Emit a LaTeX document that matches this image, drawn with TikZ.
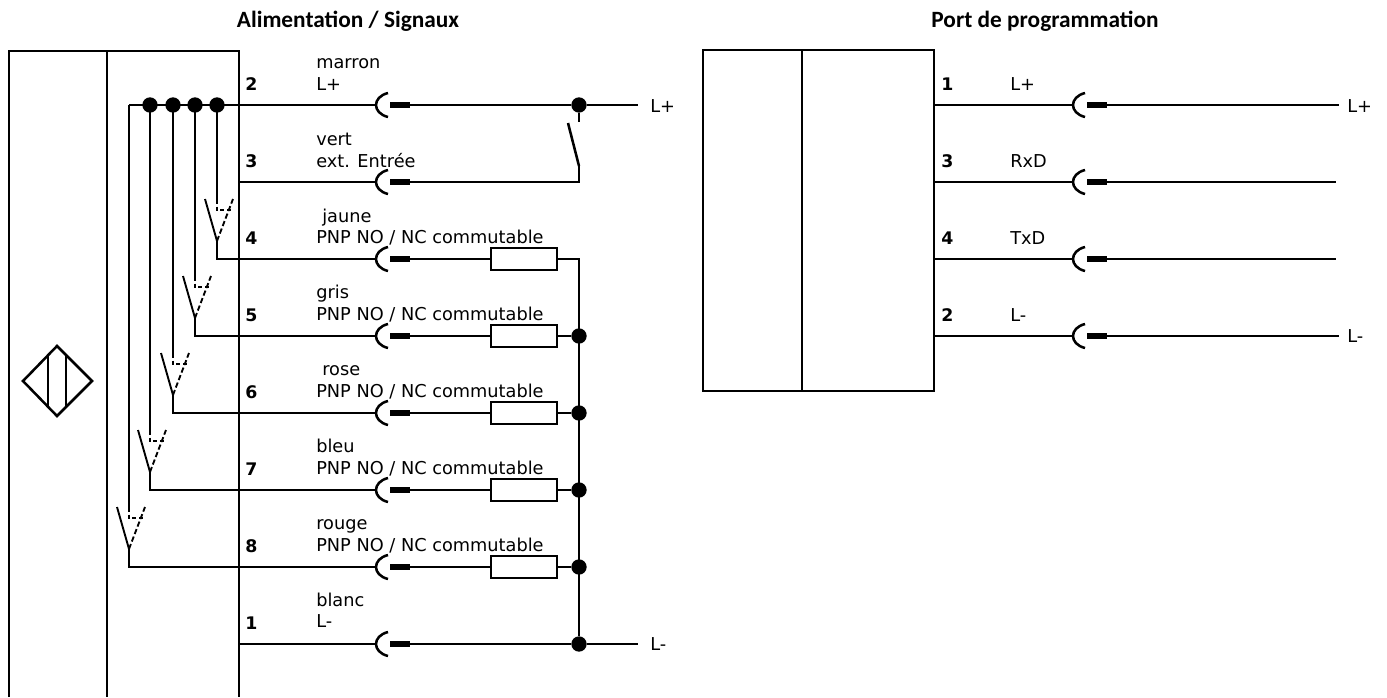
\documentclass[tikz,border=0pt]{standalone}
\usepackage{fontspec}
\setmainfont{DejaVu Sans}
\newfontfamily\titlefont{Carlito}
\tikzset{
  wire/.style={line width=1.9pt},
  contact/.style={line width=1.4pt},
  dotnode/.style={circle,fill=black,inner sep=0pt,minimum size=11.5pt},
  loadbox/.style={draw,line width=1.6pt,fill=white,inner sep=0pt,minimum width=49pt,minimum height=17pt},
  lab/.style={anchor=west,inner sep=0pt,text height=10.5pt,text depth=1.5pt,font=\fontsize{13.3}{15}\selectfont},
  pin/.style={anchor=west,inner sep=0pt,text height=10.5pt,text depth=1.5pt,font=\fontsize{13}{15}\selectfont\bfseries},
  headline/.style={inner sep=0pt,font=\fontsize{17.5}{20}\selectfont\titlefont\bfseries}
}
% plug: arc then bar, wire ends at (#1-arc) and (#1-bar)
\newcommand{\plug}[2]{%
  \coordinate (#1-arc) at (#2-34,0);
  \draw[wire] (#2-22,-12) .. controls (#2-30,-10) and (#2-34,-5) .. (#2-34,0) .. controls (#2-34,5) and (#2-30,10) .. (#2-22,12);
  \draw[line width=5.2pt] (#2-20,0) -- (#2,0);
  \coordinate (#1-bar) at (#2,0);
}
\begin{document}
\begin{tikzpicture}[x=0.75pt,y=-0.75pt]
  \useasboundingbox (0,0) rectangle (1387,697);
  \node[headline] (titleA) at (348,21) {Alimentation / Signaux};
  \node[headline] (titleB) at (1045,21) {Port de programmation};
  % left housing
  \draw[wire] (9,697) -- (9,51) -- (239,51) -- (239,697);
  \draw[wire] (107,51) -- (107,697);
  % sensor symbol
  \draw[wire,line join=miter] (57,346) -- (92,381) -- (57,416) -- (23,381) -- cycle;
  \draw[wire] (48,355) -- (48,407);
  \draw[wire] (66,355) -- (66,407);
  % channels
  \foreach \name/\pinno/\wy in {a/2/105,b/3/182,c/4/259,d/5/336,e/6/413,f/7/490,g/8/567,h/1/644} {
    \node[pin] (pin\name) at (245,\wy-21) {\pinno};
    \begin{scope}[shift={(0,\wy)}]
      \plug{p\name}{410}
    \end{scope}
    \draw[wire] (239,\wy) -- (p\name-arc);
  }
  \node[lab] (cola) at (316,62) {marron};
  \node[lab] (sigla) at (316,84) {L+};
  \node[lab] (colb) at (316,139) {vert};
  \node[lab] (siglb) at (316,161) {ext. Entrée};
  \node[lab] (colc) at (322,216) {jaune};
  \node[lab] (cold) at (316,292) {gris};
  \node[lab] (cole) at (322,369) {rose};
  \node[lab] (colf) at (316,446) {bleu};
  \node[lab] (colg) at (316,523) {rouge};
  \node[lab] (colh) at (316,600) {blanc};
  \node[lab] (siglh) at (316,621) {L-};
  % common rail with dots
  \coordinate (railL) at (129,105);
  \draw[wire] (railL) -- (239,105);
  \foreach \name/\sx/\wy in {c/217/259,d/195/336,e/173/413,f/150/490,g/129/567} {
    \pgfmathsetmacro{\st}{\wy-60}
    \coordinate (top\name) at (\sx,105);
    \draw[wire] (top\name) -- (\sx,\st+1);
    \draw[contact,dashed,dash pattern=on 3pt off 2pt] (\sx,\st+1) -- (\sx,\st+11) -- (\sx+15,\st+11);
    \draw[contact] (\sx-12,\st) -- (\sx,\st+42);
    \draw[contact,dashed,dash pattern=on 4pt off 2pt] (\sx,\st+42) -- (\sx+16,\st);
    \draw[wire] (\sx,\st+42) -- (\sx,\wy) -- (239,\wy);
  }
  \foreach \name/\sx in {c/217,d/195,e/173,f/150}
    \node[dotnode] (dot\name) at (\sx,105) {};
  % load side
  \node[dotnode] (dotplus) at (579,105) {};
  \node[lab] (lplus) at (650,106) {L+};
  \coordinate (endplus) at (638,105);
  \draw[wire] (pa-bar) -- (dotplus) -- (endplus);
  \draw[wire] (dotplus) -- (579,122);
  \draw[wire] (pb-bar) -- (579,182) -- (579,166);
  \draw[wire] (579,166) -- (568,123);
  \foreach \name/\wy in {c/259,d/336,e/413,f/490,g/567} {
    \node[loadbox] (load\name) at (524,\wy) {};
    \node[lab] (sig\name) at (316,\wy-22) {PNP NO / NC commutable};
    \draw[wire] (p\name-bar) -- (load\name);
  }
  \foreach \name/\wy in {d/336,e/413,f/490,g/567} {
    \node[dotnode] (node\name) at (579,\wy) {};
    \draw[wire] (load\name) -- (node\name);
  }
  \node[dotnode] (nodeh) at (579,644) {};
  \coordinate (endminus) at (638,644);
  \node[lab] (lminus) at (650,644) {L-};
  \draw[wire] (loadc) -- (579,259) -- (nodeh);
  \draw[wire] (ph-bar) -- (nodeh) -- (endminus);
  % programming port
  \draw[wire] (703,50) rectangle (934,391);
  \draw[wire] (802,50) -- (802,391);
  \foreach \name/\pinno/\signame/\wy/\wend in {q/1/L+/105/1339,r/3/RxD/182/1336,s/4/TxD/259/1336,t/2/L-/336/1339} {
    \node[pin] (pin\name) at (941,\wy-21) {\pinno};
    \node[lab] (sig\name) at (1010,\wy-21) {\signame};
    \begin{scope}[shift={(0,\wy)}]
      \plug{p\name}{1107}
    \end{scope}
    \coordinate (end\name) at (\wend,\wy);
    \draw[wire] (934,\wy) -- (p\name-arc);
    \draw[wire] (p\name-bar) -- (end\name);
  }
  \node[lab] (rplus) at (1347,106) {L+};
  \node[lab] (rminus) at (1347,336) {L-};
\end{tikzpicture}
\end{document}
